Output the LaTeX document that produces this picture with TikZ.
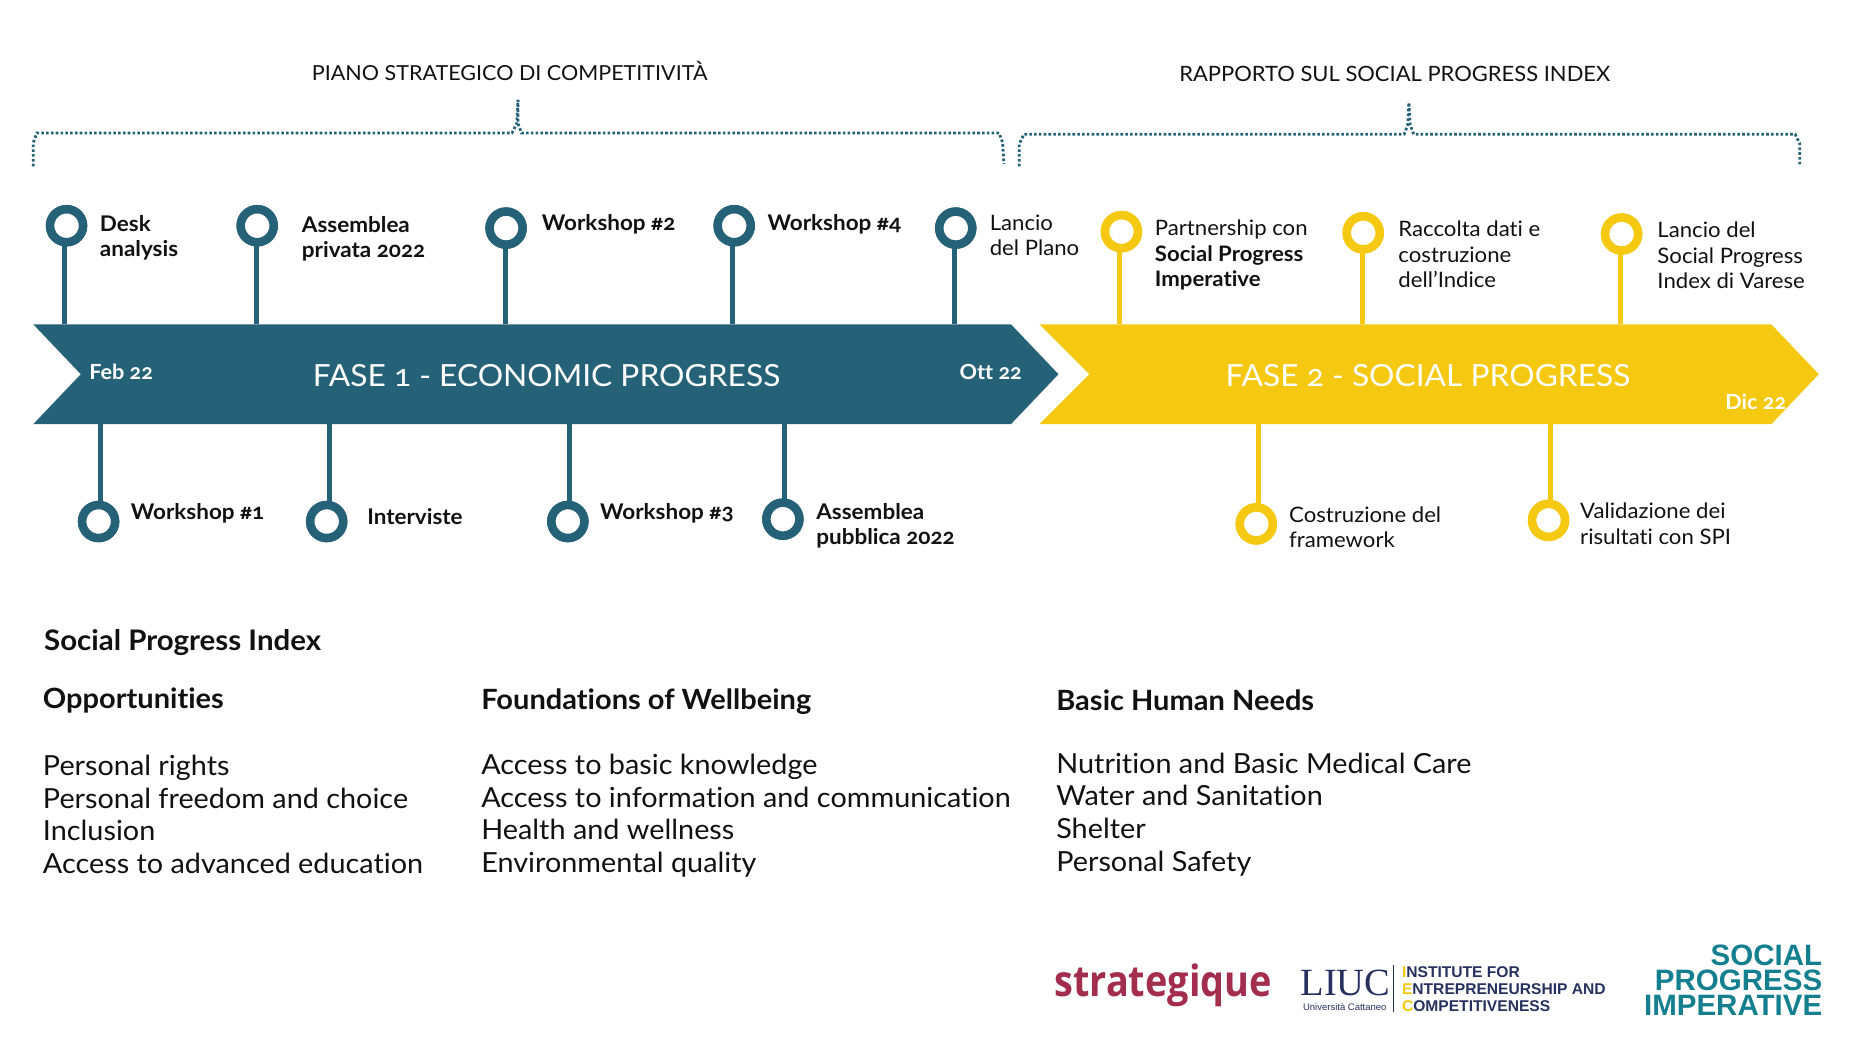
\documentclass[tikz,border=0pt]{standalone}
\usepackage{fontspec}
\setmainfont[Numbers=OldStyle,FakeStretch=1.04,Ligatures=NoCommon]{Lato}
\newfontfamily\logofont[FakeStretch=0.88]{Open Sans}
\newfontfamily\logoserif{Liberation Serif}
\newfontfamily\logosans{Liberation Sans}
\definecolor{teal1}{HTML}{256277}
\definecolor{gold1}{HTML}{F5C912}
\definecolor{ink}{HTML}{111111}
\definecolor{crimson}{HTML}{A32D4F}
\definecolor{navy}{HTML}{27315F}
\definecolor{spi}{HTML}{14808F}
\tikzset{
  x=1.188pt,y=-1.188pt,
  lab/.style={anchor=west,align=left,inner sep=0pt,text=ink,font=\fontsize{21.3}{25.5}\selectfont},
  blab/.style={lab,font=\fontsize{21.6}{25.5}\selectfont\bfseries},
  head/.style={anchor=center,inner sep=0pt,text=ink,font=\fontsize{20.7}{25}\selectfont},
  idx/.style={anchor=west,align=left,inner sep=0pt,text=ink,font=\fontsize{27.7}{32.7}\selectfont},
  idxb/.style={anchor=west,inner sep=0pt,text=ink,font=\fontsize{27.9}{32.7}\selectfont\bfseries},
  phase/.style={anchor=center,inner sep=0pt,text=white,font=\fontsize{30.5}{36}\selectfont},
  datel/.style={anchor=center,inner sep=0pt,text=white,font=\fontsize{20.8}{24}\selectfont\bfseries},
  ringT/.style={circle,draw=teal1,line width=8.5pt,fill=white,minimum size=33pt,inner sep=0pt},
  ringY/.style={circle,draw=gold1,line width=8.5pt,fill=white,minimum size=33pt,inner sep=0pt},
  stemT/.style={draw=teal1,line width=5pt},
  stemY/.style={draw=gold1,line width=5pt},
  brace/.style={draw=teal1,line width=2.8pt,dash pattern=on 2.6pt off 2.2pt}
}
\begin{document}
\begin{tikzpicture}
\useasboundingbox (0,0) rectangle (1568.2,883);
% headings
\node[head] (t1) at (429,60) {PIANO STRATEGICO DI COMPETITIVITÀ};
\node[head,font=\fontsize{21.1}{25}\selectfont] (t2) at (1174,62) {RAPPORTO SUL SOCIAL PROGRESS INDEX};
% brackets
\coordinate (b1a) at (28,140); \coordinate (b1p) at (436,84); \coordinate (b1b) at (845,138);
\coordinate (b2a) at (858,140); \coordinate (b2p) at (1186,87); \coordinate (b2b) at (1515,140);
\draw[brace] (b1a) -- (28,120) -- (31,112) -- (431,112) -- (435,104) -- (b1p);
\draw[brace] (b1p) -- (436,104) -- (439,112) -- (841,112) -- (844,120) -- (b1b);
\draw[brace] (b2a) -- (858,121) -- (862,113) -- (1182,113) -- (1185,105) -- (b2p);
\draw[brace] (b2p) -- (1187,105) -- (1190,113) -- (1511,113) -- (1515,121) -- (b2b);
% stem feet
\foreach \n/\xx/\yy in {s1/54.5/273,s2/215.5/273,s3/425.5/273,s4/616.5/273,s5/803.5/273,
  d1/85/357,d2/277/357,d3/479/357,d4/660/357,
  y1/942.5/273,y2/1146.5/273,y3/1364/273,z1/1059.5/357,z2/1305.5/357}
  \coordinate (\n) at (\xx,\yy);
% rings
\node[ringT] (c1) at (56,190) {};
\node[ringT] (c2) at (216.5,190) {};
\node[ringT] (c3) at (426,192) {};
\node[ringT] (c4) at (618,190) {};
\node[ringT] (c5) at (804.5,192) {};
\node[ringT] (e1) at (83,439) {};
\node[ringT] (e2) at (275,439) {};
\node[ringT] (e3) at (478,439) {};
\node[ringT] (e4) at (659,437) {};
\node[ringY] (g1) at (944,195) {};
\node[ringY] (g2) at (1147.5,196) {};
\node[ringY] (g3) at (1365,197) {};
\node[ringY] (h1) at (1057.5,441) {};
\node[ringY] (h2) at (1303.5,438) {};
% stems
\foreach \c/\s in {c1/s1,c2/s2,c3/s3,c4/s4,c5/s5,e1/d1,e2/d2,e3/d3,e4/d4}
  \draw[stemT] (\s |- \c.center) -- (\s);
\foreach \c/\s in {g1/y1,g2/y2,g3/y3,h1/z1,h2/z2}
  \draw[stemY] (\s |- \c.center) -- (\s);
% redraw ring interiors over stems
\foreach \c in {c1,c2,c3,c4,c5,e1,e2,e3,e4}
  \node[ringT] at (\c) {};
\foreach \c in {g1,g2,g3,h1,h2}
  \node[ringY] at (\c) {};
% phase arrows
\fill[teal1] (28,273) -- (851,273) -- (891,315) -- (851,357) -- (28,357) -- (68,315) -- cycle;
\fill[gold1] (875,273) -- (1491,273) -- (1531,315) -- (1491,357) -- (875,357) -- (917,315) -- cycle;
\node[phase] (p1) at (460,316) {FASE 1 - ECONOMIC PROGRESS};
\node[phase] (p2) at (1202,316) {FASE 2 - SOCIAL PROGRESS};
\node[datel] (f1) at (102,313) {Feb 22};
\node[datel] (f2) at (834,313) {Ott 22};
\node[datel] (f3) at (1478,338) {Dic 22};
% upper labels
\node[blab] (l1) at (84,200) {Desk\\analysis};
\node[blab] (l2) at (254,201) {Assemblea\\privata 2022};
\node[blab] (l3) at (456,189) {Workshop \#2};
\node[blab] (l4) at (646,189) {Workshop \#4};
\node[lab] (l5) at (833,198) {Lancio\\del Plano};
\node[lab] (l6) at (972,215) {Partnership con\\\textbf{Social Progress}\\\textbf{Imperative}};
\node[lab] (l7) at (1177,214) {Raccolta dati e\\costruzione\\dell'Indice};
\node[lab] (l8) at (1395,215) {Lancio del\\Social Progress\\Index di Varese};
% lower labels
\node[blab] (m1) at (110,432) {Workshop \#1};
\node[blab] (m2) at (309,435) {Interviste};
\node[blab] (m3) at (505,432) {Workshop \#3};
\node[blab] (m4) at (687,442.5) {Assemblea\\pubblica 2022};
\node[lab] (m5) at (1085,444) {Costruzione del\\framework};
\node[lab] (m6) at (1330,441) {Validazione dei\\risultati con SPI};
% index block
\node[idxb,font=\fontsize{28.3}{32}\selectfont\bfseries] (i0) at (37,540.5) {Social Progress Index};
\node[idxb] (i1) at (36,589.5) {Opportunities};
\node[idxb] (i2) at (405,590.5) {Foundations of Wellbeing};
\node[idxb] (i3) at (889,589.5) {Basic Human Needs};
\node[idx] (j1) at (36,685.5) {Personal rights\\Personal freedom and choice\\Inclusion\\Access to advanced education};
\node[idx] (j2) at (405,686.5) {Access to basic knowledge\\Access to information and communication\\Health and wellness\\Environmental quality};
\node[idx] (j3) at (889,685.5) {Nutrition and Basic Medical Care\\Water and Sanitation\\Shelter\\Personal Safety};
% logos
\node[anchor=center,inner sep=0pt,text=crimson,font=\logofont\fontsize{43}{43}\selectfont\bfseries] (lg1) at (979,829) {strategique};
\node[anchor=center,inner sep=0pt,text=navy,font=\logoserif\fontsize{38.5}{38.5}\selectfont] (lg2) at (1132.5,827) {LIUC};
\node[anchor=center,inner sep=0pt,text=navy,font=\logosans\fontsize{9.5}{10}\selectfont] (lg3) at (1132,848) {Università Cattaneo};
\draw[navy,line width=0.8pt] (1173,812) -- (1173,852);
\node[anchor=west,align=left,inner sep=0pt,text=navy,font=\logosans\fontsize{15.6}{17.2}\selectfont\bfseries] (lg4) at (1180,832.5)
  {\textcolor{gold1}{I}NSTITUTE FOR\\\textcolor{gold1}{E}NTREPRENEURSHIP AND\\\textcolor{gold1}{C}OMPETITIVENESS};
\node[anchor=east,align=right,inner sep=0pt,text=spi,font=\logosans\fontsize{29.5}{25}\selectfont\bfseries] (lg5) at (1534,825)
  {SOCIAL\\PROGRESS\\IMPERATIVE};
\end{tikzpicture}
\end{document}
